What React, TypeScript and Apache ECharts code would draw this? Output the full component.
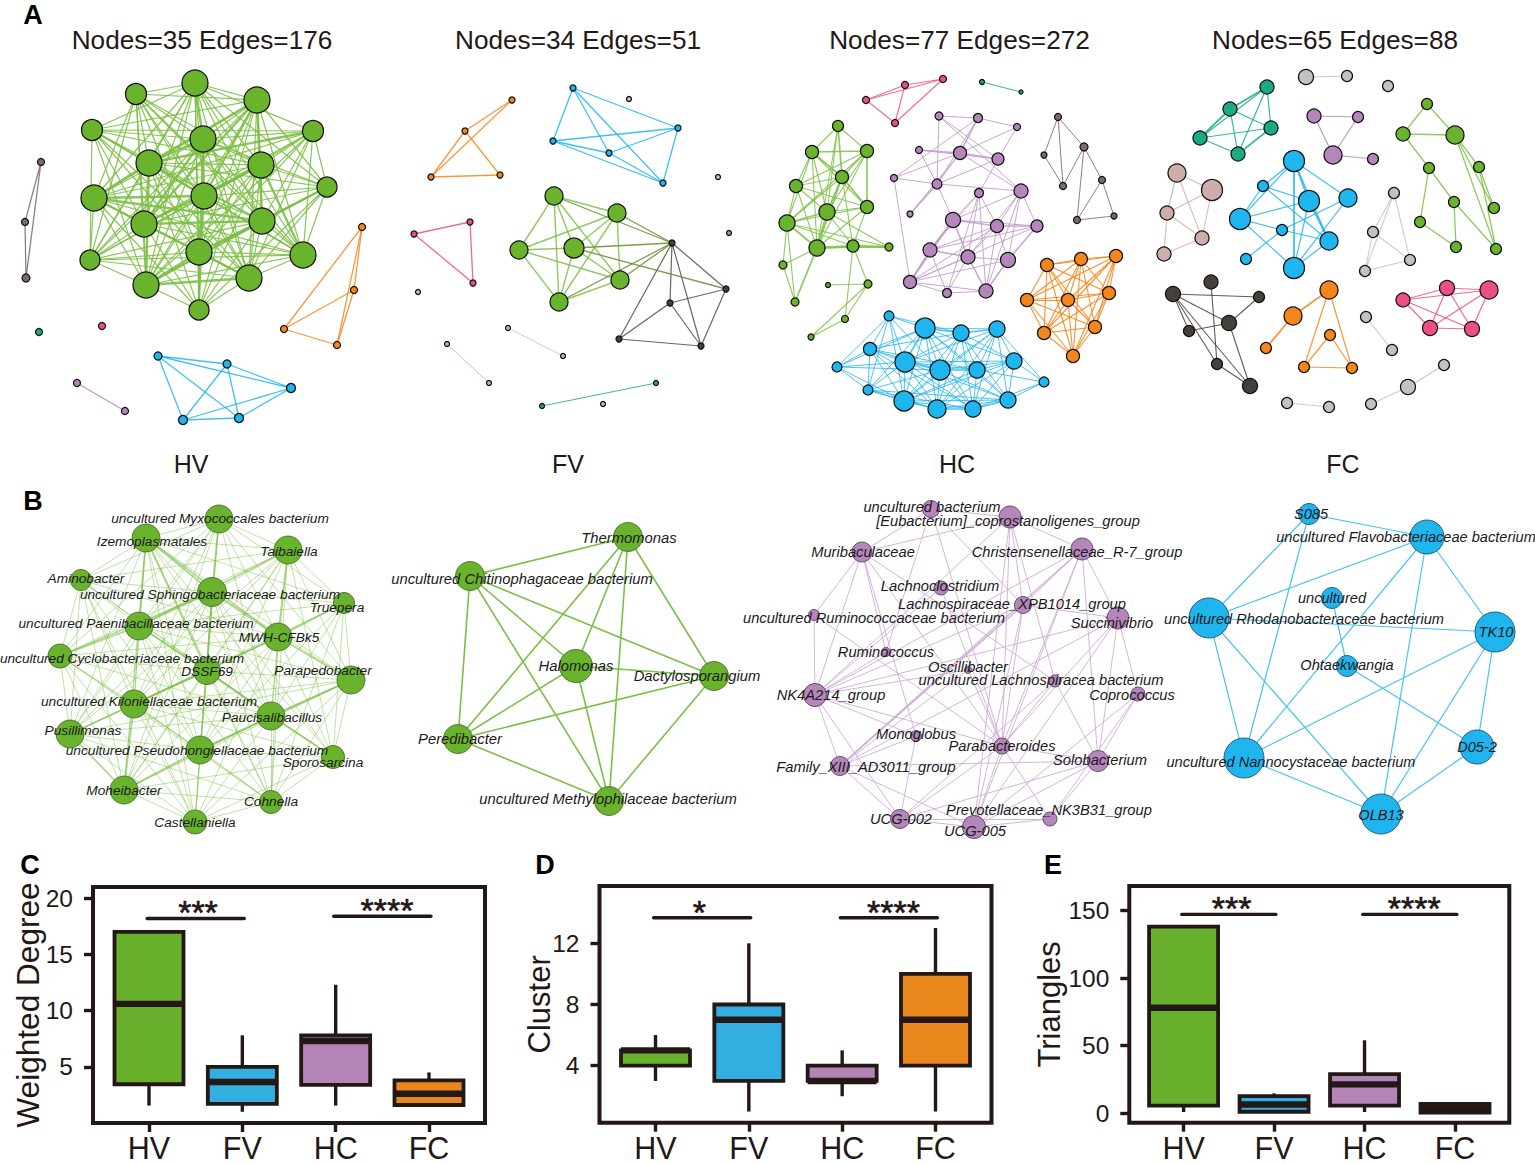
import React, { useEffect, useRef } from "react";
import * as echarts from "echarts";

const FONT = '"Liberation Sans", Arial, sans-serif';
const INK = "#231815";
const GREEN = "#6ab42d";
const BLUE = "#1fb5ef";
const PURPLE = "#b586bb";
const ORANGE = "#f5861c";
const PINK = "#ec4f86";
const TEAL = "#1aab84";
const BROWN = "#7a6a68";
const DARK = "#45403a";
const ROSE = "#ceaeaa";
const GREY = "#c2c2c2";

type N = number[];
type E = number[];

const allBut = (n: number, absent: E[], heavy: E[], hw: number): E[] => {
  const has = (l: E[], a: number, b: number) => l.some((p) => (p[0] === a && p[1] === b) || (p[0] === b && p[1] === a));
  const out: E[] = [];
  for (let a = 0; a < n; a++) for (let b = a + 1; b < n; b++) {
    if (has(absent, a, b)) continue;
    out.push(has(heavy, a, b) ? [a, b, hw] : [a, b]);
  }
  return out;
};

// ---------- Panel A, HV
const hvGreenNodes: N[] = [[195,83,13],[136,94,10.5],[257,100,13],[92,130,10.5],[313,131,10.5],[203,139,13],[149,163,13],[261,165,13],[327,187,10],[94,198,13],[204,196,13],[144,224,13],[262,221,13],[199,252,13],[90,260,10],[303,255,13],[146,285,13],[249,278,13],[199,310,10]];
const hvGreenAbsent: E[] = [[1,3],[3,9],[1,8],[8,14],[4,14],[1,18],[3,18],[4,18],[14,18],[15,18],[1,4],[3,8],[8,9],[14,8],[2,4]];
const hvGreenHeavy: E[] = [[10,13],[13,18],[5,10],[0,5],[6,9],[6,10],[7,10],[9,10],[9,12],[11,13],[11,12],[7,11],[5,11],[12,13],[12,16],[13,16],[13,17],[7,15],[5,6],[6,16],[2,6],[2,10],[2,11],[2,12],[4,6],[9,11],[16,17],[8,12]];
const hvBrownNodes: N[] = [[41,162,3.5],[25,222,3.5],[26,278,4]];
const hvBrownEdges: E[] = [[0,1],[0,2],[1,2]];
const hvTealNodes: N[] = [[39,332,3.5]];
const hvPinkNodes: N[] = [[102,326,3.5]];
const hvOrangeNodes: N[] = [[362,227,3.5],[354,290,3.5],[284,329,3.5],[337,345,3.5]];
const hvOrangeEdges: E[] = [[0,1],[0,2],[0,3],[1,2],[1,3],[2,3]];
const hvBlueNodes: N[] = [[158,356,4],[227,364,4],[291,388,4.5],[183,420,4.5],[239,418,4.5]];
const hvBlueEdges: E[] = [[0,1],[0,2],[0,3],[0,4],[1,2],[1,3],[1,4],[2,3],[2,4],[3,4]];
const hvPurpleNodes: N[] = [[77,383,3.5],[125,411,3.5]];
const hvPurpleEdges: E[] = [[0,1]];

// ---------- Panel A, FV
const fvOrangeNodes: N[] = [[512,100,3],[465,131,3],[431,177,3],[500,175,3]];
const fvOrangeEdges: E[] = [[0,1],[0,2],[1,2],[1,3],[2,3]];
const fvBlueNodes: N[] = [[573,88,3],[678,128,3],[553,141,3],[609,153,3],[663,183,3]];
const fvBlueEdges: E[] = [[0,1],[0,2],[0,3],[0,4],[1,2],[1,3],[1,4],[2,3],[2,4],[3,4]];
const fvGreyNodes: N[] = [[629,99,2.5],[718,177,2.5],[418,292,2.5],[603,404,2.5]];
const fvPurpleNodes: N[] = [[729,233,2.5]];
const fvPinkNodes: N[] = [[470,222,3],[414,234,3],[473,283,3]];
const fvPinkEdges: E[] = [[0,1],[0,2],[1,2]];
const fvGreenNodes: N[] = [[554,196,9],[617,213,9],[519,250,9],[574,248,10],[620,280,9],[559,302,9]];
const fvGreenEdges: E[] = [[0,1],[0,2],[0,3],[0,4],[0,5],[1,2],[1,3],[1,4],[1,5],[2,3],[2,4],[2,5],[3,4],[3,5],[4,5]];
const fvDarkNodes: N[] = [[672,243,3],[726,289,3],[670,303,3],[619,339,3],[701,346,3]];
const fvDarkEdges: E[] = [[0,1],[0,2],[0,3],[0,4],[1,2],[1,4],[2,3],[2,4],[3,4]];
const fvBridgeEdges: E[] = [[0,0],[1,0],[3,0],[3,1],[4,0],[5,0]];
const fvPair1Nodes: N[] = [[508,328,2.5],[563,356,2.5]];
const fvPair2Nodes: N[] = [[447,344,2.5],[489,383,2.5]];
const fvTealNodes: N[] = [[542,406,2.5],[656,383,2.5]];
const pairEdge: E[] = [[0,1]];

// ---------- Panel A, HC
const hcPinkNodes: N[] = [[943,79,3.5],[905,85,3.5],[866,100,3.5],[895,123,3.5]];
const hcPinkEdges: E[] = [[0,1],[0,2],[1,2],[1,3],[2,3],[0,3]];
const hcTealNodes: N[] = [[982,82,2.5],[1021,92,2]];
const hcGreenNodes: N[] = [[838,126,5.5],[812,152,6.5],[867,151,6.5],[842,177,6.5],[796,186,6.5],[867,207,6.5],[827,212,8],[787,223,8],[817,248,8],[853,246,6],[889,247,4],[783,265,4],[795,302,4],[868,284,4],[828,285,2.5],[845,319,3.5],[811,337,3]];
const hcGreenEdges: E[] = [[0,1],[0,2],[0,3,1.7],[0,6],[0,8],[1,2,1.7],[1,3,1.7],[1,4],[1,5],[1,6],[1,7],[1,8],[2,3],[2,4],[2,5,1.7],[2,6],[2,7],[2,8],[3,4],[3,5,1.7],[3,6,1.7],[3,7],[3,8,1.7],[3,9],[4,5],[4,6],[4,7],[4,8],[5,6],[5,7],[5,8],[5,9],[6,7,1.7],[6,8,1.7],[6,9],[6,10],[7,8,1.7],[7,9],[7,10],[7,11],[7,12],[8,9,2.4],[8,10],[8,11],[8,12,1.7],[9,10,2.4],[9,13],[9,15],[13,14],[13,15],[13,16],[15,16],[11,12]];
const hcPurpleNodes: N[] = [[939,116,4],[978,118,4.5],[1017,127,3.5],[919,150,3.5],[960,153,6.5],[998,159,6],[894,178,3.5],[937,184,5],[1021,191,7],[979,193,4.5],[910,214,3],[953,220,7.5],[997,226,6.5],[1037,226,6],[930,250,7],[968,257,7],[1008,260,7.5],[910,282,6.5],[947,293,4.5],[986,291,7]];
const hcPurpleEdges: E[] = [[0,1],[0,7],[0,8],[0,5],[1,2],[1,6],[1,4,1.6],[2,4],[2,5],[3,4,1.6],[3,5],[3,7],[4,5,1.6],[4,7],[4,8],[5,7],[5,9],[6,7],[6,4],[6,17],[7,8],[7,10,1.6],[7,11],[7,1],[10,4],[8,11],[8,12],[8,13],[8,15],[8,16],[8,19],[9,11],[9,12],[9,15],[9,14],[9,18],[9,19],[11,12,1.6],[11,13],[11,14,1.6],[11,15,1.6],[11,17,1.6],[12,13,1.6],[12,14],[12,15],[12,16],[12,17],[12,19],[13,14],[13,16,1.6],[13,17],[14,15,1.6],[14,17,1.6],[14,18],[15,16],[15,17],[15,18],[15,19,1.6],[16,17],[16,19,1.6],[17,18],[17,19],[18,19]];
const hcOrangeNodes: N[] = [[1047,265,6.5],[1081,259,6.5],[1116,256,6.5],[1027,300,6.5],[1068,300,6.5],[1109,293,6.5],[1044,333,6.5],[1095,327,6.5],[1073,356,6.5]];
const hcBrownNodes: N[] = [[1058,117,3.5],[1084,147,4],[1044,155,3],[1063,186,3.5],[1102,180,3.5],[1077,220,3.5],[1114,216,3]];
const hcBrownEdges: E[] = [[0,1],[0,2],[0,3],[1,3],[1,4],[1,5],[2,3],[4,5],[4,6],[5,6]];
const hcBlueNodes: N[] = [[889,316,5],[925,328,10],[961,333,8],[997,329,8],[870,349,6.5],[905,362,10],[940,370,10],[977,370,8],[1014,361,8],[837,367,5],[1044,382,5],[868,390,5],[904,401,10],[937,409,9],[973,409,8],[1008,400,8]];
const hcBlueAbsent: E[] = [[0,10],[0,3],[0,15],[0,8],[0,14],[0,13],[0,7],[9,10],[9,3],[9,8],[9,15],[9,14],[9,2],[9,7],[9,13],[10,4],[10,11],[10,12],[10,5],[10,1],[10,2],[10,6],[10,13],[11,3],[11,8],[11,2],[11,7],[4,3],[4,15],[4,8]];
const hcBlueHeavy: E[] = [[1,5],[12,13],[13,14],[14,15],[5,6],[6,7],[1,2],[2,3]];

// ---------- Panel A, FC
const fcGreyPairA: N[] = [[1306,77,7.5],[1347,76,5.5]];
const fcGreySingle: N[] = [[1388,86,5.5]];
const fcTealNodes: N[] = [[1267,87,7],[1230,109,7],[1271,128,7],[1200,138,7],[1238,154,7]];
const fcTealEdges: E[] = [[0,1,1.8],[0,2],[0,3],[0,4],[1,2],[1,3,1.8],[1,4],[2,3],[2,4,1.6],[3,4]];
const fcPurpleNodes: N[] = [[1314,116,7],[1358,117,5.5],[1333,155,9],[1373,159,5.5]];
const fcPurpleEdges: E[] = [[0,1],[0,2],[1,2],[2,3]];
const fcGreenNodes: N[] = [[1427,104,5.5],[1403,134,7],[1455,135,9],[1429,168,5.5],[1479,167,5.5],[1454,202,5.5],[1494,208,5.5],[1420,222,5.5],[1456,247,5.5],[1496,249,5.5]];
const fcGreenEdges: E[] = [[0,1],[0,2],[1,2],[1,3],[2,4],[2,6],[2,9],[3,5],[3,7],[4,6],[4,9],[5,8],[5,9],[7,8]];
const fcRoseNodes: N[] = [[1177,173,9],[1212,190,10.5],[1167,213,7],[1202,238,7],[1164,254,7]];
const fcRoseEdges: E[] = [[0,1],[0,2],[0,3],[1,2],[1,3],[2,3],[2,4],[3,4]];
const fcBlueNodes: N[] = [[1294,161,10.5],[1263,186,5.5],[1309,201,10.5],[1348,198,9],[1240,219,10.5],[1282,230,5.5],[1329,241,9],[1246,259,5.5],[1294,268,10.5]];
const fcBlueEdges: E[] = [[0,1],[0,2,1.8],[0,3],[0,4],[0,6],[0,8,1.8],[1,2],[1,4],[1,6],[2,4],[2,8],[2,6,1.8],[3,5],[3,8],[4,5],[4,8],[5,6],[5,7],[6,8]];
const fcGreyTriNodes: N[] = [[1394,193,5.5],[1373,232,5.5],[1410,260,5.5],[1365,271,5.5]];
const fcGreyTriEdges: E[] = [[0,1],[0,3],[0,2],[1,2],[1,3],[2,3]];
const fcDarkNodes: N[] = [[1211,282,7],[1173,294,7.5],[1259,297,5.5],[1229,323,7.5],[1189,331,5.5],[1217,364,5.5],[1250,386,7.5]];
const fcDarkEdges: E[] = [[0,5],[1,2],[1,3],[1,4],[1,6],[2,3],[3,4],[3,6],[5,6],[1,5]];
const fcOrangeNodes: N[] = [[1329,290,9],[1293,316,9],[1330,335,5.5],[1266,348,5.5],[1304,367,5.5],[1352,368,5.5]];
const fcOrangeEdges: E[] = [[0,1,1.8],[0,4],[0,5],[1,3,1.8],[2,4],[2,5],[4,5]];
const fcPinkNodes: N[] = [[1447,288,7.5],[1489,290,9],[1403,300,7],[1430,328,7.5],[1472,329,7.5]];
const fcPinkEdges: E[] = [[0,1],[0,2],[0,3],[0,4],[1,2],[1,3],[1,4],[2,3],[2,4],[3,4]];
const fcGreyPairB: N[] = [[1366,317,5.5],[1392,350,5.5]];
const fcGreyTriple: N[] = [[1444,365,5.5],[1408,387,7.5],[1371,404,5.5]];
const fcGreyTripleEdges: E[] = [[0,1],[1,2]];
const fcGreyPairC: N[] = [[1287,403,5.5],[1329,407,5.5]];

// ---------- Panel B
const bHvNames = ["uncultured Myxococcales bacterium","Izemoplasmatales","Taibaiella","Aminobacter","uncultured Sphingobacteriaceae bacterium","Truepera","uncultured Paenibacillaceae bacterium","MWH-CFBk5","uncultured Cyclobacteriaceae bacterium","DSSF69","Parapedobacter","uncultured Kiloniellaceae bacterium","Paucisalibacillus","Pusillimonas","uncultured Pseudohongiellaceae bacterium","Sporosarcina","Moheibacter","Cohnella","Castellaniella"];
const bHvNodes: N[] = [[219,519,14],[146,538,14],[288,550,14],[81,580,10.5],[212,592,14.5],[344,603,10.5],[139,626,14],[278,637,14],[60,656,12],[207,671,13.5],[351,680,14],[134,704,14],[271,716,14],[70,734,14],[200,750,14],[333,757,11.5],[124,790,14],[271,802,11.5],[195,822,12]];
const bHvLabels: N[] = [[220,518],[152,541],[289,551],[86,578],[210,594],[337,607],[136,623],[279,637],[122,658],[207,671],[323,670],[149,701],[272,717],[83,730],[197,750],[323,762],[124,790],[271,801],[195,822]];
const bHvAbsent: E[] = [[3,5],[3,10],[3,15],[0,15],[0,18],[5,8],[8,10],[13,15],[5,18],[5,13],[3,17],[0,17],[5,16],[2,18],[8,15]];
const bHvHeavy: E[] = [[1,7],[4,7],[4,6],[2,6],[4,8],[6,8],[9,11],[7,11],[9,12],[12,14],[14,16],[11,16],[13,16],[11,13],[10,12],[5,7],[7,10],[6,9],[1,4],[2,7],[4,9],[0,4],[12,15],[10,14],[1,6],[1,9]];

const bFvNames = ["Thermomonas","uncultured Chitinophagaceae bacterium","Halomonas","Dactylosporangium","Peredibacter","uncultured Methylophilaceae bacterium"];
const bFvNodes: N[] = [[628,537,14.5],[470,576,14.5],[576,666,16.5],[714,676,14.5],[458,739,14.5],[609,801,14.5]];
const bFvLabels: N[] = [[629,538],[522,579],[576,666],[697,676],[460,739],[608,799]];
const bFvEdges: E[] = [[0,1],[0,2],[0,3],[0,4],[0,5],[1,2],[1,3],[1,4],[1,5],[2,3],[2,4],[2,5],[3,4],[3,5],[4,5]];

const bHcNames = ["uncultured bacterium","[Eubacterium]_coprostanoligenes_group","Christensenellaceae_R-7_group","Muribaculaceae","Lachnoclostridium","Lachnospiraceae_XPB1014_group","uncultured Ruminococcaceae bacterium","Succinivibrio","Ruminococcus","Oscillibacter","uncultured Lachnospiracea bacterium","Coprococcus","NK4A214_group","Monoglobus","Parabacteroides","Solobacterium","Family_XIII_AD3011_group","UCG-002","Prevotellaceae_NK3B31_group","UCG-005"];
const bHcNodes: N[] = [[931,509,8.5],[1010,517,11],[1082,549,11],[862,552,10],[941,588,7],[1023,605,8.5],[814,615,5.5],[1118,618,11],[886,652,4.5],[968,670,3.5],[1055,681,6],[1138,694,7],[815,695,11.5],[916,736,5.5],[1002,746,8],[1098,761,10.5],[840,766,9.5],[900,819,9.5],[1050,819,7],[974,827,11.5]];
const bHcLabels: N[] = [[932,507],[1008,521],[1077,552],[863,552],[940,586],[1012,604],[874,618],[1112,623],[886,652],[968,667],[1041,680],[1132,695],[831,695],[916,734],[1002,746],[1100,760],[866,767],[901,819],[1049,810],[975,831]];
const bHcEdges: E[] = [[0,1],[0,3],[0,8],[0,5],[0,14],[1,2],[1,3],[1,5],[1,14],[1,12],[1,19],[1,10],[2,5],[2,12],[2,16,1.5],[2,7],[2,14],[2,15],[2,19],[3,6],[3,12],[3,8],[3,13],[3,14],[3,10],[4,12],[4,14],[5,7],[5,12],[5,14],[5,16,1.5],[5,19],[6,12],[6,14],[7,12],[7,14],[7,15],[7,11],[7,16],[7,19],[8,12],[9,16],[9,14],[9,12],[10,14],[10,15],[10,17],[11,15],[11,18],[11,19],[12,14],[12,16],[12,17],[12,13],[13,17],[13,16],[14,17],[14,19],[14,18],[14,15],[15,16],[15,18],[15,19],[15,17],[16,17],[16,19],[17,19],[17,18],[18,19]];

const bFcNames = ["S085","uncultured Flavobacteriaceae bacterium","uncultured","uncultured Rhodanobacteraceae bacterium","TK10","Ohtaekwangia","D05-2","uncultured Nannocystaceae bacterium","OLB13"];
const bFcNodes: N[] = [[1309,514,10.5],[1427,537,17],[1332,598,10.5],[1209,618,20],[1495,632,20],[1347,666,10.5],[1477,747,17],[1244,758,20],[1381,814,20]];
const bFcLabels: N[] = [[1311,514],[1406,537],[1332,598],[1304,619],[1496,632],[1347,665],[1477,747],[1291,762],[1381,815]];
const bFcEdges: E[] = [[0,1],[0,3],[0,7],[1,3],[1,4],[1,7],[1,8],[3,4],[3,7],[3,8],[2,5],[4,6],[4,7],[4,8],[5,6],[6,8],[7,8]];

// ---------- Boxplots: [position, min, q1, median, q3, max]
const groups = ["HV", "FV", "HC", "FC"];
const boxColors = ["#69b02c", "#33aee0", "#b384b5", "#e8871c"];
const degreeBoxes: N[] = [[1,1.55,3.45,10.6,17,17],[2,1,1.7,3.65,5,7.8],[3,1.55,3.4,7.3,7.8,12.3],[4,1.6,1.6,2.6,3.8,4.5]];
const clusterBoxes: N[] = [[1,3,4,5,5,6],[2,1,3,7,8,12],[3,2,3,3,4,5],[4,1,4,7,10,13]];
const triangleBoxes: N[] = [[1,1,5.7,78,138,138],[2,1,1.2,6.6,12.8,14.8],[3,1,5.7,21.4,29,54],[4,0.5,0.5,3.7,7,8]];
// [from, to, height, stars x, stars]
const degreeSig: any[] = [[0.98,2.02,18.2,1.525,"***"],[2.98,4.02,18.4,3.55,"****"]];
const clusterSig: any[] = [[0.98,2.02,13.67,1.47,"*"],[2.98,4.02,13.67,3.55,"****"]];
const triangleSig: any[] = [[0.98,2.02,147,1.53,"***"],[2.98,4.02,147,3.55,"****"]];

const panelTitles: any[] = [["Nodes=35 Edges=176",202,40],["Nodes=34 Edges=51",578,40],["Nodes=77 Edges=272",959.5,40],["Nodes=65 Edges=88",1335,40]];
const groupLabels: any[] = [["HV",191,464],["FV",568,464],["HC",957,464],["FC",1343,464]];
const panelLetters: any[] = [["A",33,15],["B",33,501],["C",30,865],["D",545,865],["E",1053,865]];

type Cluster = { n: N[]; e?: E[]; c: string; ec?: string; w?: number; o?: number; names?: string[]; at?: N[]; fs?: number };
type Bridge = { a: N[]; b: N[]; e: E[]; c: string; w: number; o: number };

const graphSeries = (clusters: Cluster[], bw: number, bc: string, bridges: Bridge[] = []) => {
  const data: any[] = [];
  const links: any[] = [];
  const start = new Map<N[], number>();
  clusters.forEach((cl) => {
    const base = data.length;
    start.set(cl.n, base);
    cl.n.forEach((p, i) => {
      const name = cl.names ? cl.names[i] : `n${base + i}`;
      const item: any = { name, value: [p[0], p[1]], symbolSize: p[2] * 2, itemStyle: { color: cl.c, borderColor: bc, borderWidth: bw } };
      if (cl.names && cl.at) {
        item.label = {
          show: true, position: "inside", offset: [cl.at[i][0] - p[0], cl.at[i][1] - p[1]], formatter: name,
          fontFamily: FONT, fontStyle: "italic", fontSize: cl.fs || 13.7, color: "#1a1a1a",
        };
      }
      data.push(item);
    });
    (cl.e || []).forEach((ed) => links.push({
      source: base + ed[0], target: base + ed[1],
      lineStyle: { color: cl.ec || cl.c, width: ed[2] || cl.w || 1.3, opacity: cl.o ?? 0.85, curveness: 0 },
    }));
  });
  bridges.forEach((br) => br.e.forEach((ed) => links.push({
    source: start.get(br.a)! + ed[0], target: start.get(br.b)! + ed[1],
    lineStyle: { color: br.c, width: br.w, opacity: br.o, curveness: 0 },
  })));
  return {
    type: "graph", layout: "none", coordinateSystem: "cartesian2d", xAxisIndex: 0, yAxisIndex: 0,
    silent: true, roam: false, edgeSymbol: ["none", "none"], label: { show: false }, emphasis: { disabled: true },
    data, links,
  };
};

const boxSeries = (i: number, boxes: N[]) => ({
  type: "custom", xAxisIndex: i, yAxisIndex: i, clip: false, silent: true,
  encode: { x: 0, y: [1, 2, 3, 4, 5] },
  data: boxes,
  renderItem: (params: any, api: any) => {
    const x = api.value(0);
    const pt = (v: number) => api.coord([x, v]);
    const [cx, yMin] = pt(api.value(1));
    const yQ1 = pt(api.value(2))[1];
    const yMed = pt(api.value(3))[1];
    const yQ3 = pt(api.value(4))[1];
    const yMax = pt(api.value(5))[1];
    const hw = 34.5;
    const stroke = { stroke: INK, lineWidth: 3.4 };
    return {
      type: "group",
      children: [
        { type: "line", shape: { x1: cx, y1: yQ1, x2: cx, y2: yMin }, style: stroke },
        { type: "line", shape: { x1: cx, y1: yQ3, x2: cx, y2: yMax }, style: stroke },
        { type: "rect", shape: { x: cx - hw, y: yQ3, width: hw * 2, height: yQ1 - yQ3 }, style: { fill: boxColors[params.dataIndex], stroke: INK, lineWidth: 3.8 } },
        { type: "line", shape: { x1: cx - hw, y1: yMed, x2: cx + hw, y2: yMed }, style: { stroke: INK, lineWidth: 6.4 } },
      ],
    };
  },
});

const sigSeries = (i: number, sig: any[]) => ({
  type: "custom", xAxisIndex: i, yAxisIndex: i, clip: false, silent: true,
  encode: { x: 0, y: 2 },
  data: sig,
  renderItem: (p: any, api: any) => {
    const a = api.coord([api.value(0), api.value(2)]);
    const b = api.coord([api.value(1), api.value(2)]);
    const s = api.coord([api.value(3), api.value(2)]);
    return {
      type: "group",
      children: [
        { type: "line", shape: { x1: a[0], y1: a[1], x2: b[0], y2: b[1] }, style: { stroke: INK, lineWidth: 3.4, lineCap: "round" } },
        { type: "text", x: s[0], y: s[1] - 6, style: { text: sig[p.dataIndex][4], font: `34px ${FONT}`, fill: INK, stroke: INK, lineWidth: 0.6, align: "center", verticalAlign: "middle", textAlign: "center", textVerticalAlign: "middle" } },
      ],
    };
  },
});

const textEl = (t: any[], font: string, fill: string) => ({
  type: "text", x: t[1], y: t[2],
  style: { text: t[0], font, fill, align: "center", verticalAlign: "middle", textAlign: "center", textVerticalAlign: "middle" },
});

const boxGrids = [
  { left: 93, top: 887, width: 392, height: 236 },
  { left: 599.5, top: 886, width: 392, height: 236.7 },
  { left: 1129.3, top: 886, width: 380, height: 236.7 },
].map((g) => ({ ...g, show: true, borderColor: INK, borderWidth: 4, backgroundColor: "transparent", outerBoundsMode: "none", containLabel: false }));

const xBox = (i: number) => ({
  type: "value", gridIndex: i, min: 0.4, max: 4.6, position: "bottom",
  splitLine: { show: false }, axisLine: { show: false, onZero: false },
  axisTick: { show: true, length: 9, customValues: [1, 2, 3, 4], lineStyle: { color: INK, width: 3.4 } },
  axisLabel: { show: true, customValues: [1, 2, 3, 4], margin: 9.5, formatter: (v: number) => groups[v - 1], fontFamily: FONT, fontSize: 30.5, color: INK },
});
const yBox = (i: number, min: number, max: number, ticks: number[], name: string, gap: number, nameSize: number) => ({
  type: "value", gridIndex: i, min, max, position: "left", name, nameLocation: "middle", nameGap: gap, nameMoveOverlap: false,
  nameTextStyle: { fontFamily: FONT, fontSize: nameSize, color: INK },
  splitLine: { show: false }, axisLine: { show: false, onZero: false },
  axisTick: { show: true, length: 9, customValues: ticks, lineStyle: { color: INK, width: 3.4 } },
  axisLabel: { show: true, customValues: ticks, margin: 20, fontFamily: FONT, fontSize: 24.5, color: INK },
});

const EDGE_GREEN = "#7cbf45";
const AB = 1.25;

const option: any = {
  animation: false,
  backgroundColor: "#ffffff",
  grid: [{ left: 0, top: 0, width: 1535, height: 1164, show: false, outerBoundsMode: "none" }, ...boxGrids],
  xAxis: [{ type: "value", gridIndex: 0, min: 0, max: 1535, show: false }, xBox(1), xBox(2), xBox(3)],
  yAxis: [
    { type: "value", gridIndex: 0, min: 0, max: 1164, inverse: true, show: false },
    yBox(1, 0, 21, [5, 10, 15, 20], "Weighted Degree", 49, 31.6),
    yBox(2, 0.27, 15.75, [4, 8, 12], "Cluster", 44.5, 31),
    yBox(3, -6.9, 168, [0, 50, 100, 150], "Triangles", 64, 31),
  ],
  graphic: {
    elements: [
      ...panelTitles.map((t) => textEl(t, `26.2px ${FONT}`, INK)),
      ...groupLabels.map((t) => textEl(t, `25px ${FONT}`, INK)),
      ...panelLetters.map((t) => textEl(t, `bold 27px ${FONT}`, "#000000")),
    ],
  },
  series: [
    graphSeries([
      { n: hvGreenNodes, e: allBut(19, hvGreenAbsent, hvGreenHeavy, 2.3), c: GREEN, ec: EDGE_GREEN, w: 1.2, o: 0.9 },
      { n: hvBrownNodes, e: hvBrownEdges, c: BROWN },
      { n: hvTealNodes, c: TEAL },
      { n: hvPinkNodes, c: PINK },
      { n: hvOrangeNodes, e: hvOrangeEdges, c: ORANGE },
      { n: hvBlueNodes, e: hvBlueEdges, c: BLUE },
      { n: hvPurpleNodes, e: hvPurpleEdges, c: PURPLE },
    ], AB, "#111111"),
    graphSeries([
      { n: fvOrangeNodes, e: fvOrangeEdges, c: ORANGE },
      { n: fvBlueNodes, e: fvBlueEdges, c: BLUE },
      { n: fvGreyNodes, c: GREY },
      { n: fvPurpleNodes, c: PURPLE },
      { n: fvPinkNodes, e: fvPinkEdges, c: PINK },
      { n: fvGreenNodes, e: fvGreenEdges, c: GREEN, ec: EDGE_GREEN, w: 1.4 },
      { n: fvDarkNodes, e: fvDarkEdges, c: DARK, o: 0.8, w: 1.2 },
      { n: fvPair1Nodes, e: pairEdge, c: GREY, w: 1 },
      { n: fvPair2Nodes, e: pairEdge, c: ROSE, w: 1 },
      { n: fvTealNodes, e: pairEdge, c: TEAL, w: 1 },
    ], AB, "#111111", [{ a: fvGreenNodes, b: fvDarkNodes, e: fvBridgeEdges, c: "#70913f", w: 1.3, o: 0.9 }]),
    graphSeries([
      { n: hcPinkNodes, e: hcPinkEdges, c: PINK, w: 1.1 },
      { n: hcTealNodes, e: pairEdge, c: TEAL, w: 1.1 },
      { n: hcGreenNodes, e: hcGreenEdges, c: GREEN, ec: EDGE_GREEN, w: 1.1, o: 0.85 },
      { n: hcPurpleNodes, e: hcPurpleEdges, c: PURPLE, ec: "#c29ccb", w: 1, o: 0.9 },
      { n: hcOrangeNodes, e: allBut(9, [], [], 1), c: ORANGE, w: 1.1, o: 0.9 },
      { n: hcBrownNodes, e: hcBrownEdges, c: BROWN, w: 1 },
      { n: hcBlueNodes, e: allBut(16, hcBlueAbsent, hcBlueHeavy, 1.5), c: BLUE, w: 1, o: 0.8 },
    ], AB, "#111111"),
    graphSeries([
      { n: fcGreyPairA, e: pairEdge, c: GREY, w: 1.1 },
      { n: fcGreySingle, c: GREY },
      { n: fcTealNodes, e: fcTealEdges, c: TEAL, w: 1.2 },
      { n: fcPurpleNodes, e: fcPurpleEdges, c: PURPLE, w: 1.2 },
      { n: fcGreenNodes, e: fcGreenEdges, c: GREEN, ec: EDGE_GREEN, w: 1.3 },
      { n: fcRoseNodes, e: fcRoseEdges, c: ROSE, w: 1.1 },
      { n: fcBlueNodes, e: fcBlueEdges, c: BLUE, w: 1.2 },
      { n: fcGreyTriNodes, e: fcGreyTriEdges, c: GREY, w: 1.1 },
      { n: fcDarkNodes, e: fcDarkEdges, c: DARK, w: 1.1 },
      { n: fcOrangeNodes, e: fcOrangeEdges, c: ORANGE, w: 1.2 },
      { n: fcPinkNodes, e: fcPinkEdges, c: PINK, w: 1.2 },
      { n: fcGreyPairB, e: pairEdge, c: GREY, w: 1.1 },
      { n: fcGreyTriple, e: fcGreyTripleEdges, c: GREY, w: 1.1 },
      { n: fcGreyPairC, e: pairEdge, c: GREY, w: 1.1 },
    ], AB, "#111111"),
    graphSeries([{ n: bHvNodes, e: allBut(19, bHvAbsent, bHvHeavy, 1.8), c: GREEN, ec: EDGE_GREEN, w: 0.8, o: 0.6, names: bHvNames, at: bHvLabels }], 0.8, "#3d5f22"),
    graphSeries([{ n: bFvNodes, e: bFvEdges, c: GREEN, ec: EDGE_GREEN, w: 1.6, o: 1, names: bFvNames, at: bFvLabels, fs: 14.8 }], 0.8, "#3d5f22"),
    graphSeries([{ n: bHcNodes, e: bHcEdges, c: PURPLE, ec: "#cfadd6", w: 1, o: 0.9, names: bHcNames, at: bHcLabels, fs: 14.7 }], 0.8, "#4a3350"),
    graphSeries([{ n: bFcNodes, e: bFcEdges, c: BLUE, ec: "#47c3ee", w: 1.2, o: 1, names: bFcNames, at: bFcLabels, fs: 14.6 }], 0.8, "#1b3d55"),
    boxSeries(1, degreeBoxes),
    boxSeries(2, clusterBoxes),
    boxSeries(3, triangleBoxes),
    sigSeries(1, degreeSig),
    sigSeries(2, clusterSig),
    sigSeries(3, triangleSig),
  ],
};

export default function App() {
  const ref = useRef<HTMLDivElement>(null);
  useEffect(() => {
    document.body.style.margin = "0";
    document.body.style.overflow = "hidden";
    const chart = echarts.init(ref.current!, undefined, { renderer: "svg" });
    chart.setOption(option);
    return () => chart.dispose();
  }, []);
  return <div ref={ref} style={{ width: 1535, height: 1164 }} />;
}
